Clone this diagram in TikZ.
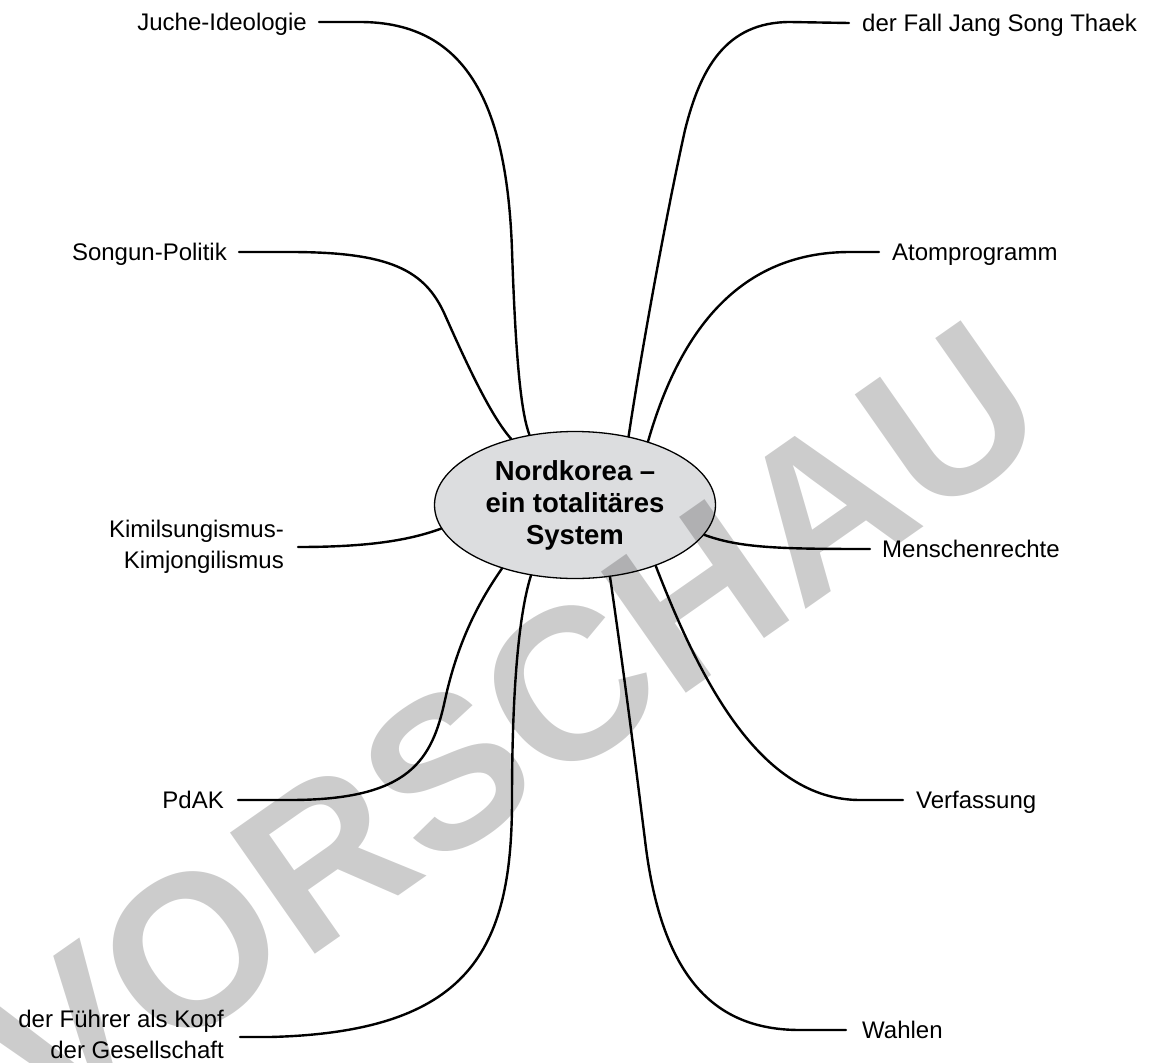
\documentclass[tikz,border=0pt]{standalone}
\usepackage{fontspec}
\setmainfont{Liberation Sans}
\usetikzlibrary{shapes.geometric,calc}
\definecolor{ellfill}{RGB}{220,221,223}
\begin{document}
\begin{tikzpicture}[x=1pt,y=-1pt,
  lbl/.style={inner sep=0pt,font=\fontsize{24}{31}\selectfont},
  conn/.style={line width=2.4pt,line cap=round}]
\useasboundingbox (0,0) rectangle (1168,1063);
\node[ellipse,draw,line width=1.3pt,fill=ellfill,minimum width=281pt,minimum height=147pt,inner sep=0pt,align=center,
  font=\fontsize{27.5}{32}\selectfont\bfseries] (c) at (575,505) {Nordkorea --\\ein totalitäres\\System};
% labels
\node[lbl,anchor=base east] (ju) at (307,30) {Juche-Ideologie};
\node[lbl,anchor=base west] (fa) at (862,31) {der Fall Jang Song Thaek};
\node[lbl,anchor=base east] (so) at (227,260) {Songun-Politik};
\node[lbl,anchor=base west] (at) at (892,260) {Atomprogramm};
\node[lbl,anchor=east,align=right] (ki) at (284,547) {Kimilsungismus-\\Kimjongilismus};
\node[lbl,anchor=base west] (me) at (882,557) {Menschenrechte};
\node[lbl,anchor=base east] (pd) at (224,808) {PdAK};
\node[lbl,anchor=base west] (ve) at (916,808) {Verfassung};
\node[lbl,anchor=east,align=right] (fu) at (224,1034) {der Führer als Kopf\\der Gesellschaft};
\node[lbl,anchor=base west] (wa) at (862,1038) {Wahlen};
% connectors
\draw[conn] ($(ju.base east)+(12,-8)$) -- (360,22) .. controls (470,22) and (507,110) .. (512,250)
  .. controls (516,370) and (522,415) .. (c.123.5);
\draw[conn] ($(fa.base west)+(-13,-8)$) -- (790,22) .. controls (725,22) and (700,70) .. (685,130)
  .. controls (665,220) and (640,360) .. (c.52.1);
\draw[conn] ($(so.base east)+(12,-8)$) -- (290,252) .. controls (390,252) and (425,270) .. (445,315)
  .. controls (465,360) and (490,415) .. (c.134.6);
\draw[conn] ($(at.base west)+(-13,-8)$) -- (850,252) .. controls (740,252) and (680,330) .. (c.41.7);
\draw[conn] ($(ki.east)+(14,0)$) .. controls (370,547) and (410,540) .. (c.190.6);
\draw[conn] (c.347.4) .. controls (740,548) and (780,549) .. ($(me.base west)+(-12,-8)$);
\draw[conn] ($(pd.base east)+(14,-8)$) -- (290,800) .. controls (410,800) and (432,760) .. (445,700)
  .. controls (458,640) and (480,600) .. (c.221.7);
\draw[conn] ($(fu.east)+(16,3)$) -- (270,1037) .. controls (470,1032) and (512,950) .. (512,800)
  .. controls (512,680) and (520,610) .. (c.238.4);
\draw[conn] (c.296.9) .. controls (625,680) and (635,760) .. (645,840)
  .. controls (662,985) and (720,1030) .. (800,1030) -- ($(wa.base west)+(-16,-8)$);
\draw[conn] (c.323.1) .. controls (700,680) and (760,800) .. (860,800) -- ($(ve.base west)+(-13,-8)$);
% watermark
\node[rotate=35,text=black,text opacity=0.2,inner sep=0pt,font=\fontsize{215}{215}\selectfont\bfseries] (wm) at (510,727) {VORSCHAU};
\end{tikzpicture}
\end{document}
